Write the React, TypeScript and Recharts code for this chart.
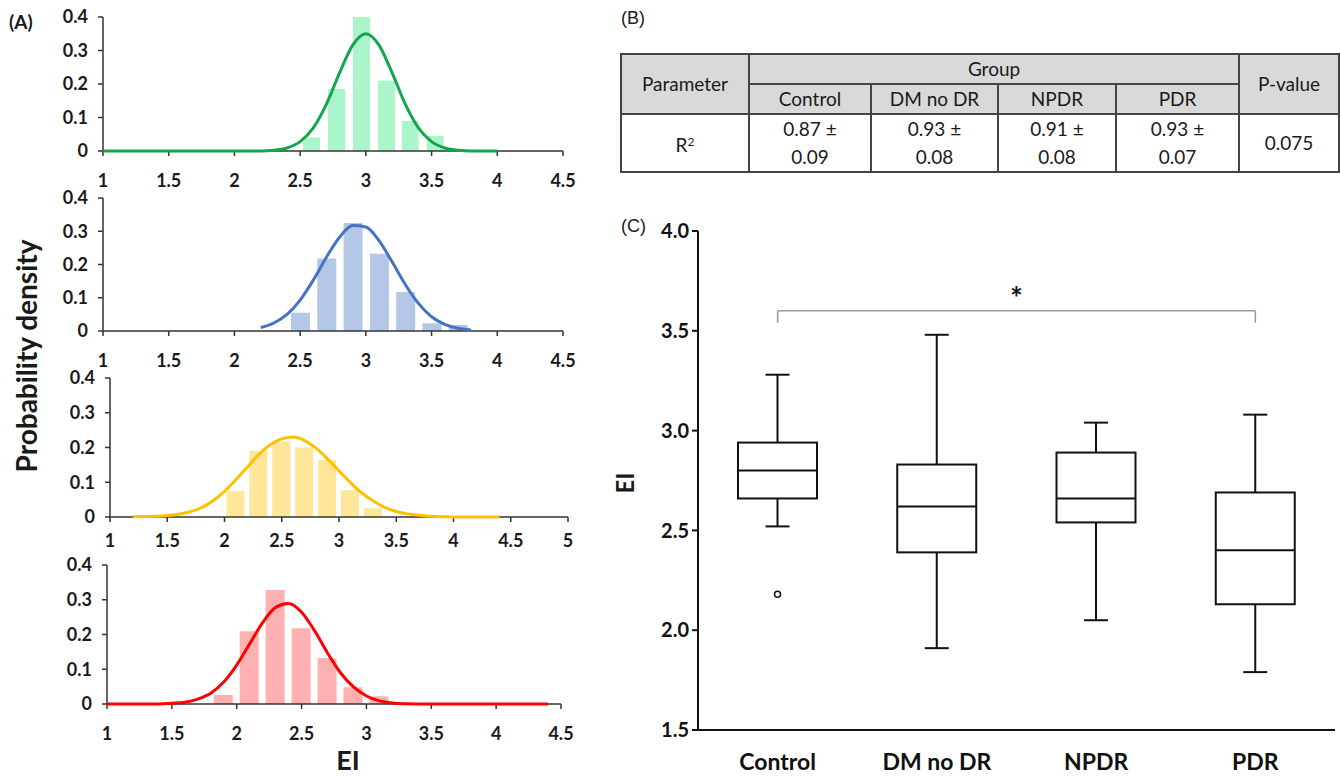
import React from "react";
import { ComposedChart, Bar, Line, XAxis, YAxis, ReferenceLine } from "recharts";

// ---- (A) histograms: bin centres / relative frequency, and fitted normal curve points
const ctrlBinX = [2.59, 2.78, 2.97, 3.16, 3.34, 3.53];
const ctrlBinY = [0.04, 0.185, 0.4, 0.21, 0.09, 0.045];
const ctrlFitX = [1.0, 2.0, 2.2, 2.3, 2.4, 2.5, 2.6, 2.7, 2.8, 2.9, 3.0, 3.1, 3.2, 3.3, 3.4, 3.5, 3.6, 3.7, 3.8, 4.0];
const ctrlFitY = [0, 0, 0, 0.002, 0.009, 0.028, 0.069, 0.14, 0.233, 0.316, 0.35, 0.316, 0.233, 0.14, 0.069, 0.028, 0.009, 0.002, 0, 0];

const dmBinX = [2.5, 2.7, 2.9, 3.1, 3.3, 3.5, 3.7];
const dmBinY = [0.055, 0.218, 0.325, 0.232, 0.117, 0.023, 0.018];
const dmFitX = [2.2, 2.3, 2.4, 2.5, 2.6, 2.7, 2.8, 2.9, 3.0, 3.1, 3.2, 3.3, 3.4, 3.5, 3.6, 3.7, 3.8];
const dmFitY = [0.01, 0.024, 0.05, 0.093, 0.153, 0.222, 0.282, 0.317, 0.313, 0.272, 0.208, 0.14, 0.083, 0.043, 0.02, 0.008, 0.003];

const npdrBinX = [2.1, 2.3, 2.5, 2.7, 2.9, 3.1, 3.3];
const npdrBinY = [0.074, 0.19, 0.217, 0.2, 0.164, 0.077, 0.025];
const npdrFitX = [1.2, 1.4, 1.5, 1.6, 1.7, 1.8, 1.9, 2.0, 2.1, 2.2, 2.3, 2.4, 2.5, 2.6, 2.7, 2.8, 2.9, 3.0, 3.1, 3.2, 3.3, 3.4, 3.5, 3.6, 3.7, 3.8, 4.0, 4.4];
const npdrFitY = [0.001, 0.002, 0.004, 0.008, 0.015, 0.027, 0.047, 0.074, 0.108, 0.144, 0.18, 0.208, 0.225, 0.23, 0.22, 0.198, 0.167, 0.133, 0.099, 0.069, 0.046, 0.028, 0.016, 0.009, 0.005, 0.002, 0, 0];

const pdrBinX = [1.9, 2.1, 2.3, 2.5, 2.7, 2.9, 3.1];
const pdrBinY = [0.026, 0.209, 0.328, 0.218, 0.132, 0.048, 0.022];
const pdrFitX = [1.0, 1.4, 1.5, 1.6, 1.7, 1.8, 1.9, 2.0, 2.1, 2.2, 2.3, 2.4, 2.5, 2.6, 2.7, 2.8, 2.9, 3.0, 3.1, 3.2, 3.3, 3.5, 4.4];
const pdrFitY = [0, 0, 0.002, 0.005, 0.014, 0.031, 0.063, 0.112, 0.173, 0.234, 0.278, 0.289, 0.264, 0.211, 0.147, 0.09, 0.049, 0.023, 0.009, 0.003, 0.001, 0, 0];

const densityTicks = [0, 0.1, 0.2, 0.3, 0.4];
const eiTicks45 = [1, 1.5, 2, 2.5, 3, 3.5, 4, 4.5];
const eiTicks5 = [1, 1.5, 2, 2.5, 3, 3.5, 4, 4.5, 5];

// ---- (B) table
const groups = ["Control", "DM no DR", "NPDR", "PDR"];
const r2Mean = ["0.87", "0.93", "0.91", "0.93"];
const r2Sd = ["0.09", "0.08", "0.08", "0.07"];
const pValue = "0.075";

// ---- (C) box plot
const whiskerLow = [2.52, 1.91, 2.05, 1.79];
const q1 = [2.66, 2.39, 2.54, 2.13];
const median = [2.8, 2.62, 2.66, 2.4];
const q3 = [2.94, 2.83, 2.89, 2.69];
const whiskerHigh = [3.28, 3.48, 3.04, 3.08];
const outliers = [[2.18], [], [], []];
const eiBoxTicks = [1.5, 2.0, 2.5, 3.0, 3.5, 4.0];
const bracketY = 3.6;
const bracketFoot = 3.54;

const pairs = (xs: number[], ys: number[], key: string) => xs.map((x, i) => ({ x, [key]: ys[i] }));

const YW = 60;
const MT = 20;
const MR = 15;
const XH = 44;
const tickFont = { fill: "#1a1a1a", fontSize: 18, fontWeight: 700, fontFamily: "Lato, sans-serif" };

type HistProps = {
  left: number;
  top: number;
  plotW: number;
  plotH: number;
  xMax: number;
  xTicks: number[];
  bins: { x: number; h: number }[];
  fit: { x: number; y: number }[];
  barFill: string;
  lineColor: string;
  barSize: number;
  labelGap: number;
};

function Histogram({ left, top, plotW, plotH, xMax, xTicks, bins, fit, barFill, lineColor, barSize, labelGap }: HistProps) {
  const W = YW + plotW + MR;
  const H = MT + plotH + XH;
  const margin = { top: MT, right: MR, bottom: 0, left: 0 };
  const layer: React.CSSProperties = { position: "absolute", left: 0, top: 0 };
  return (
    <div style={{ position: "absolute", left: left - YW, top: top - MT, width: W, height: H }}>
      <div style={layer}>
        <ComposedChart width={W} height={H} data={bins} margin={margin}>
          <XAxis
            type="number"
            dataKey="x"
            domain={[1, xMax]}
            ticks={xTicks}
            interval={0}
            height={XH}
            stroke="#333"
            strokeWidth={1.5}
            tickSize={5}
            tickMargin={labelGap}
            tick={tickFont}
          />
          <YAxis
            type="number"
            domain={[0, 0.4]}
            ticks={densityTicks}
            interval={0}
            width={YW}
            stroke="#333"
            strokeWidth={1.5}
            tickSize={5}
            tickMargin={10}
            tick={tickFont}
          />
          <Bar dataKey="h" fill={barFill} barSize={barSize} isAnimationActive={false} />
        </ComposedChart>
      </div>
      <div style={layer}>
        <ComposedChart width={W} height={H} data={fit} margin={margin}>
          <XAxis type="number" dataKey="x" domain={[1, xMax]} height={XH} tick={false} tickLine={false} axisLine={false} />
          <YAxis type="number" domain={[0, 0.4]} width={YW} tick={false} tickLine={false} axisLine={false} />
          <Line type="monotone" dataKey="y" stroke={lineColor} strokeWidth={3} dot={false} isAnimationActive={false} />
        </ComposedChart>
      </div>
    </div>
  );
}

function BoxShape(props: any) {
  const { x, y, width, height, payload } = props;
  if (!payload) return null;
  const top = Math.min(y, y + height);
  const bottom = Math.max(y, y + height);
  const px = (v: number) => bottom - ((v - payload.lo) / (payload.hi - payload.lo)) * (bottom - top);
  const cx = x + width / 2;
  const cap = 12;
  return (
    <g stroke="#111" strokeWidth={2} fill="none">
      <line x1={cx} x2={cx} y1={px(payload.hi)} y2={px(payload.q3)} />
      <line x1={cx} x2={cx} y1={px(payload.q1)} y2={px(payload.lo)} />
      <line x1={cx - cap} x2={cx + cap} y1={px(payload.hi)} y2={px(payload.hi)} />
      <line x1={cx - cap} x2={cx + cap} y1={px(payload.lo)} y2={px(payload.lo)} />
      <rect x={x} y={px(payload.q3)} width={width} height={px(payload.q1) - px(payload.q3)} fill="#fff" />
      <line x1={x} x2={x + width} y1={px(payload.med)} y2={px(payload.med)} />
      {payload.out.map((o: number, i: number) => (
        <circle key={i} cx={cx} cy={px(o)} r={3} fill="#fff" strokeWidth={1.5} />
      ))}
    </g>
  );
}

const boxData = groups.map((g, i) => ({
  group: g,
  range: [whiskerLow[i], whiskerHigh[i]],
  lo: whiskerLow[i],
  q1: q1[i],
  med: median[i],
  q3: q3[i],
  hi: whiskerHigh[i],
  out: outliers[i],
}));

const cell: React.CSSProperties = {
  border: "2px solid #444",
  textAlign: "center",
  verticalAlign: "middle",
  padding: 0,
};
const head: React.CSSProperties = { ...cell, background: "#d9d9d9", height: 27 };

export default function App() {
  return (
    <div
      style={{
        position: "absolute",
        left: 0,
        top: 0,
        width: 1341,
        height: 782,
        background: "#fff",
        fontFamily: "Lato, sans-serif",
        color: "#1a1a1a",
        overflow: "hidden",
      }}
    >
      {/* ---------- (A) ---------- */}
      <div style={{ position: "absolute", left: 9, top: 10, fontSize: 19, fontWeight: 700 }}>(A)</div>
      <Histogram
        left={103} top={17} plotW={460} plotH={134} xMax={4.5} xTicks={eiTicks45}
        bins={pairs(ctrlBinX, ctrlBinY, "h") as any} fit={pairs(ctrlFitX, ctrlFitY, "y") as any}
        barFill="#aaf5ca" lineColor="#13a64e" barSize={17} labelGap={18}
      />
      <Histogram
        left={103} top={198} plotW={460} plotH={133} xMax={4.5} xTicks={eiTicks45}
        bins={pairs(dmBinX, dmBinY, "h") as any} fit={pairs(dmFitX, dmFitY, "y") as any}
        barFill="#b4c7e7" lineColor="#4472c4" barSize={19} labelGap={18}
      />
      <Histogram
        left={110} top={378} plotW={458} plotH={139} xMax={5} xTicks={eiTicks5}
        bins={pairs(npdrBinX, npdrBinY, "h") as any} fit={pairs(npdrFitX, npdrFitY, "y") as any}
        barFill="#ffe699" lineColor="#ffc000" barSize={18} labelGap={12}
      />
      <Histogram
        left={107} top={565} plotW={454} plotH={139} xMax={4.5} xTicks={eiTicks45}
        bins={pairs(pdrBinX, pdrBinY, "h") as any} fit={pairs(pdrFitX, pdrFitY, "y") as any}
        barFill="#ffb0b0" lineColor="#ff0000" barSize={19} labelGap={18}
      />
      <div
        style={{
          position: "absolute",
          left: 26 - 200,
          top: 356 - 20,
          width: 400,
          height: 40,
          lineHeight: "40px",
          textAlign: "center",
          fontSize: 28,
          fontWeight: 700,
          transform: "rotate(-90deg)",
        }}
      >
        Probability density
      </div>
      <div
        style={{
          position: "absolute",
          left: 348 - 40,
          top: 745,
          width: 80,
          height: 30,
          textAlign: "center",
          fontSize: 27,
          fontWeight: 700,
          lineHeight: "30px",
        }}
      >
        EI
      </div>

      {/* ---------- (B) ---------- */}
      <div style={{ position: "absolute", left: 621, top: 8, fontSize: 18, fontFamily: "'Liberation Sans', Arial, sans-serif" }}>(B)</div>
      <table
        style={{
          position: "absolute",
          left: 620,
          top: 53,
          width: 718,
          borderCollapse: "collapse",
          tableLayout: "fixed",
          fontSize: 19,
          lineHeight: "28px",
        }}
      >
        <colgroup>
          <col style={{ width: 128 }} />
          <col style={{ width: 122 }} />
          <col style={{ width: 127 }} />
          <col style={{ width: 118 }} />
          <col style={{ width: 123 }} />
          <col style={{ width: 100 }} />
        </colgroup>
        <tbody>
          <tr>
            <td rowSpan={2} style={head}>Parameter</td>
            <td colSpan={4} style={head}>Group</td>
            <td rowSpan={2} style={head}>P-value</td>
          </tr>
          <tr>
            {groups.map((g) => (
              <td key={g} style={head}>{g}</td>
            ))}
          </tr>
          <tr>
            <td style={{ ...cell, height: 54 }}>
              R<sup style={{ fontSize: 12, verticalAlign: "6px" }}>2</sup>
            </td>
            {r2Mean.map((m, i) => (
              <td key={i} style={cell}>
                {m} ±
                <br />
                {r2Sd[i]}
              </td>
            ))}
            <td style={cell}>{pValue}</td>
          </tr>
        </tbody>
      </table>

      {/* ---------- (C) ---------- */}
      <div style={{ position: "absolute", left: 621, top: 216, fontSize: 18, fontFamily: "'Liberation Sans', Arial, sans-serif" }}>(C)</div>
      <div
        style={{
          position: "absolute",
          left: 625 - 30,
          top: 483 - 15,
          width: 60,
          height: 30,
          lineHeight: "30px",
          textAlign: "center",
          fontSize: 24,
          fontWeight: 700,
          transform: "rotate(-90deg)",
        }}
      >
        EI
      </div>
      <div style={{ position: "absolute", left: 638, top: 211 }}>
        <ComposedChart width={702} height={569} data={boxData} margin={{ top: 20, right: 5, bottom: 0, left: 0 }}>
          <XAxis
            dataKey="group"
            type="category"
            height={50}
            tickLine={false}
            axisLine={{ stroke: "#111", strokeWidth: 2 }}
            tickMargin={18}
            tick={{ fill: "#111", fontSize: 23, fontWeight: 700, fontFamily: "Lato, sans-serif" }}
          />
          <YAxis
            type="number"
            domain={[1.5, 4]}
            ticks={eiBoxTicks}
            interval={0}
            width={60}
            tickFormatter={(v: number) => v.toFixed(1)}
            axisLine={{ stroke: "#111", strokeWidth: 2 }}
            tickLine={{ stroke: "#111", strokeWidth: 2 }}
            tickSize={6}
            tickMargin={3}
            tick={{ fill: "#111", fontSize: 20, fontWeight: 700, fontFamily: "Lato, sans-serif" }}
          />
          <Bar dataKey="range" barSize={79} shape={BoxShape} isAnimationActive={false} />
          <ReferenceLine
            segment={[{ x: "Control", y: bracketY }, { x: "PDR", y: bracketY }]}
            stroke="#999"
            strokeWidth={1.5}
            label={{ value: "*", position: "top", fill: "#111", fontSize: 30, fontWeight: 700, offset: 2 }}
          />
          <ReferenceLine segment={[{ x: "Control", y: bracketFoot }, { x: "Control", y: bracketY }]} stroke="#999" strokeWidth={1.5} />
          <ReferenceLine segment={[{ x: "PDR", y: bracketFoot }, { x: "PDR", y: bracketY }]} stroke="#999" strokeWidth={1.5} />
        </ComposedChart>
      </div>
    </div>
  );
}
